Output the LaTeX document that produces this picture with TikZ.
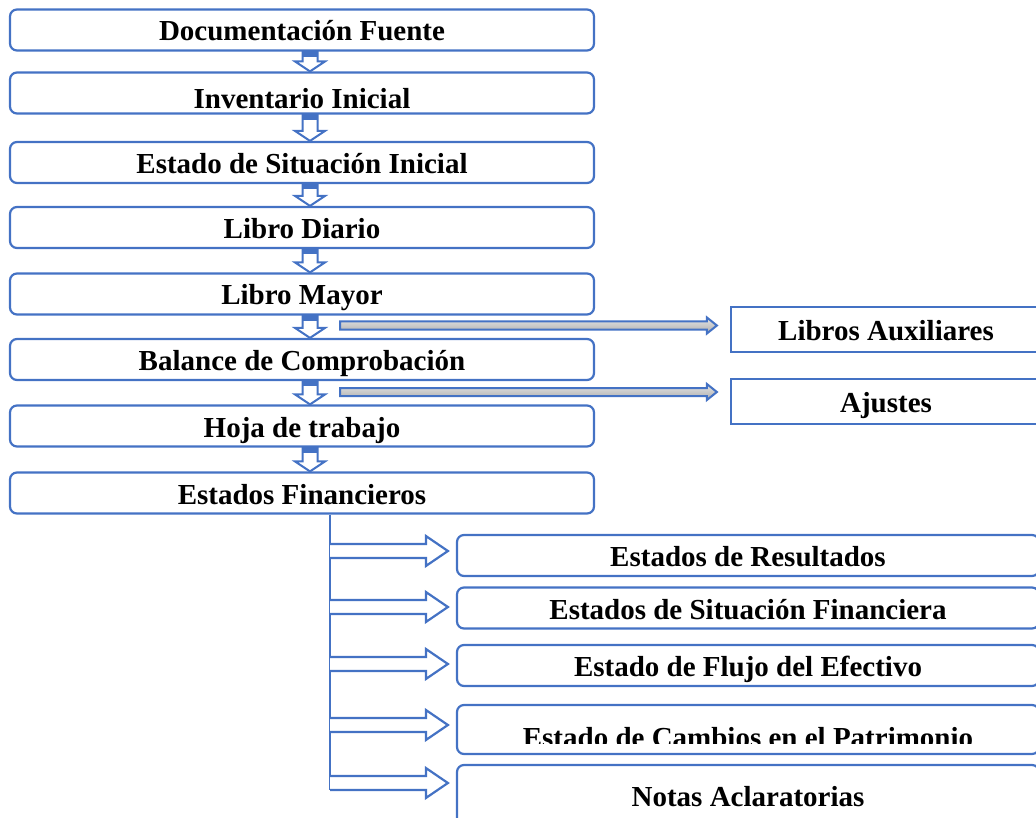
\documentclass[tikz,border=0pt]{standalone}
\usepackage{fontspec}
\setmainfont{Liberation Serif}
\usetikzlibrary{calc}
\definecolor{azul}{RGB}{68,114,196}
\begin{document}
\begin{tikzpicture}[x=1pt, y=-1pt,
    caja/.style={draw=azul, line width=2.2pt, rounded corners=7pt, minimum width=584pt,
      minimum height=41pt, inner sep=0pt, text height=26pt, text depth=4pt,
      font=\fontsize{29}{30}\selectfont\bfseries},
    lateral/.style={caja, rounded corners=0pt, minimum width=310pt, minimum height=45pt},
    estado/.style={caja, minimum width=582pt},
    bajar/.style={draw=azul, line width=2pt, fill=white,
      path picture={\fill[azul] (path picture bounding box.north west) rectangle
        ([yshift=-5pt]path picture bounding box.north east);},
      to path={let \p1=(\tikztostart), \p2=(\tikztotarget) in
        (\x1-7.5pt,\y1) -- (\x1+7.5pt,\y1) -- (\x1+7.5pt,\y2+10pt) -- (\x1+15pt,\y2+10pt)
        -- (\x1,\y2) -- (\x1-15pt,\y2+10pt) -- (\x1-7.5pt,\y2+10pt) -- cycle}},
    gris/.style={draw=azul, line width=2pt, top color=gray!20, bottom color=gray!65,
      to path={let \p1=(\tikztostart), \p2=(\tikztotarget) in
        (\x1,\y1+4pt) -- (\x2-23pt,\y1+4pt) -- (\x2-23pt,\y1+8pt) -- (\x2-13pt,\y1)
        -- (\x2-23pt,\y1-8pt) -- (\x2-23pt,\y1-4pt) -- (\x1,\y1-4pt) -- cycle}},
    derecha/.style={draw=azul, line width=2.2pt, fill=white,
      to path={let \p1=(\tikztostart), \p2=(\tikztotarget) in
        (\x1,\y1+7pt) -- (\x2-30pt,\y1+7pt) -- (\x2-30pt,\y1+15pt) -- (\x2-8pt,\y1)
        -- (\x2-30pt,\y1-15pt) -- (\x2-30pt,\y1-7pt) -- (\x1,\y1-7pt)}},
    tronco/.style={draw=azul, line width=2.2pt}]
  \useasboundingbox (0,0) rectangle (1036,818);
  \node[caja] (L0) at (302,30) {Documentación Fuente};
  \node[caja, text height=36pt] (L1) at (302,93) {Inventario Inicial};
  \node[caja] (L2) at (302,162.5) {Estado de Situación Inicial};
  \node[caja] (L3) at (302,227.5) {Libro Diario};
  \node[caja] (L4) at (302,294) {Libro Mayor};
  \node[caja] (L5) at (302,359.5) {Balance de Comprobación};
  \node[caja] (L6) at (302,426) {Hoja de trabajo};
  \node[caja] (L7) at (302,493) {Estados Financieros};
  \node[lateral] (R0) at (886,329.5) {Libros Auxiliares};
  \node[lateral] (R1) at (886,401.5) {Ajustes};
  \node[estado] (F0) at (748,555.5) {Estados de Resultados};
  \node[estado] (F1) at (748,608) {Estados de Situación Financiera};
  \node[estado] (F2) at (748,665.5) {Estado de Flujo del Efectivo};
  \node[estado, minimum height=49pt] (F3) at (748,729.5) {};
  \begin{scope}
    \clip (457,705) rectangle (1040,743);
    \node[font=\fontsize{29}{30}\selectfont\bfseries, anchor=base, inner sep=0pt] (F3t) at (748,747) {Estado de Cambios en el Patrimonio};
  \end{scope}
  \node[estado, minimum height=60pt] (F4) at (748,795) {Notas Aclaratorias};
  \foreach \a/\b in {L0/L1, L1/L2, L2/L3, L3/L4, L4/L5, L5/L6, L6/L7}
    \path ([xshift=8pt]\a.south) edge[bajar] ([xshift=8pt]\b.north);
  \coordinate (g0) at (340,325.5);
  \coordinate (g1) at (340,392);
  \path (g0) edge[gris] (g0 -| R0.west);
  \path (g1) edge[gris] (g1 -| R1.west);
  \coordinate (raiz) at ([xshift=28pt]L7.south);
  \coordinate (fin) at (330,790);
  \draw[tronco] (raiz) -- (fin);
  \foreach \i/\yy in {0/551, 1/607, 2/664, 3/725, 4/783} {
    \coordinate (s\i) at (330,\yy);
    \path (s\i) edge[derecha] (s\i -| F\i.west);
  }
\end{tikzpicture}
\end{document}
